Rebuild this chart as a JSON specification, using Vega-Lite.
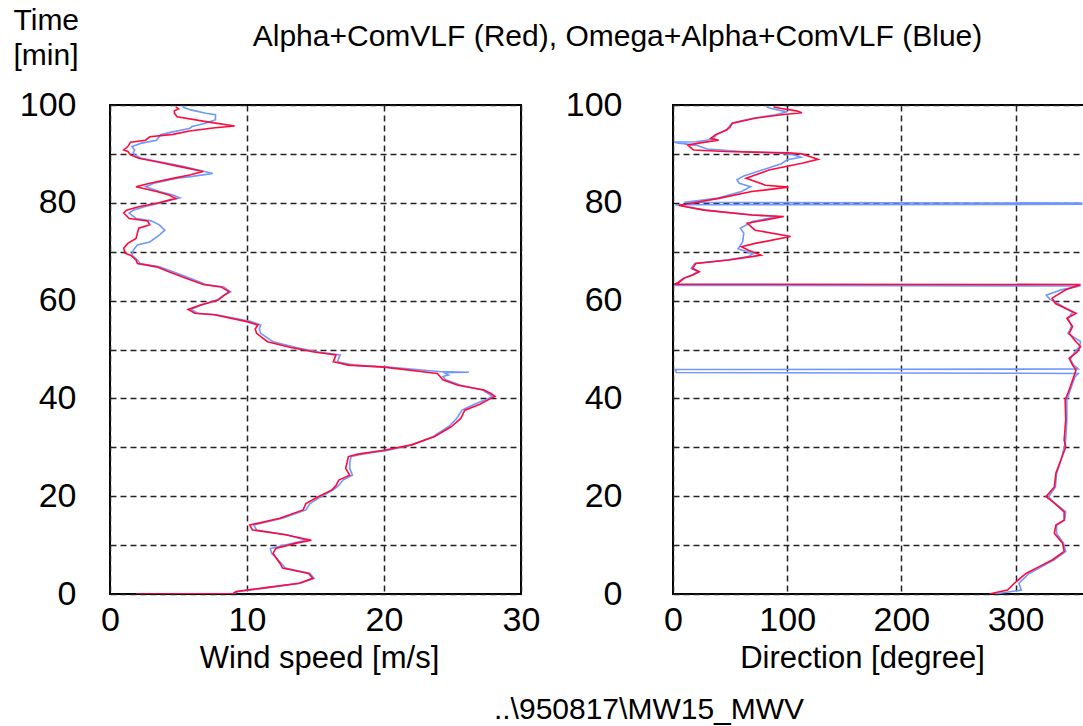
{
  "$schema": "https://vega.github.io/schema/vega-lite/v6.json",
  "background": "white",
  "padding": {"left": 12, "top": 4, "right": 0, "bottom": 0},
  "config": {
    "font": "Liberation Sans",
    "axis": {
      "labelFont": "Liberation Sans", "labelFontSize": 34, "labelColor": "#000",
      "titleFont": "Liberation Sans", "titleFontSize": 31, "titleFontWeight": "normal", "titleColor": "#000",
      "ticks": false, "domain": false, "labelFlush": false, "labelOverlap": false,
      "gridColor": "#222", "gridDash": [6, 4], "gridWidth": 1.5, "gridOpacity": 1
    }
  },
  "title": {
    "text": "..\\950817\\MW15_MWV", "orient": "bottom", "anchor": "middle", "frame": "group",
    "dx": 539, "offset": 21, "font": "Liberation Sans", "fontSize": 30, "fontWeight": "normal", "color": "#000"
  },
  "datasets": {
    "speed": [
      {"s":"Red","t":99.6,"v":4.8},{"s":"Red","t":99.2,"v":5.0},{"s":"Red","t":98.8,"v":4.7},{"s":"Red","t":98.3,"v":4.7},
      {"s":"Red","t":97.6,"v":4.9},{"s":"Red","t":96.6,"v":7.0},{"s":"Red","t":95.7,"v":9.1},{"s":"Red","t":95.3,"v":7.5},
      {"s":"Red","t":94.7,"v":5.8},{"s":"Red","t":94.0,"v":4.6},{"s":"Red","t":93.5,"v":2.9},{"s":"Red","t":92.8,"v":2.6},
      {"s":"Red","t":92.4,"v":1.5},{"s":"Red","t":91.5,"v":1.3},{"s":"Red","t":90.8,"v":1.0},{"s":"Red","t":90.5,"v":1.3},
      {"s":"Red","t":89.8,"v":1.5},{"s":"Red","t":89.1,"v":2.1},{"s":"Red","t":88.4,"v":3.4},{"s":"Red","t":87.4,"v":5.1},
      {"s":"Red","t":86.4,"v":6.8},{"s":"Red","t":85.7,"v":5.8},{"s":"Red","t":85.0,"v":4.6},{"s":"Red","t":84.0,"v":2.9},
      {"s":"Red","t":83.3,"v":1.9},{"s":"Red","t":82.3,"v":3.4},{"s":"Red","t":81.6,"v":4.3},{"s":"Red","t":80.9,"v":4.8},
      {"s":"Red","t":79.9,"v":3.4},{"s":"Red","t":79.2,"v":2.1},{"s":"Red","t":78.5,"v":1.2},{"s":"Red","t":77.9,"v":1.0},
      {"s":"Red","t":76.8,"v":1.4},{"s":"Red","t":76.3,"v":2.75},{"s":"Red","t":75.5,"v":2.9},{"s":"Red","t":74.8,"v":2.1},
      {"s":"Red","t":73.8,"v":2.0},{"s":"Red","t":72.7,"v":1.9},{"s":"Red","t":71.7,"v":1.3},{"s":"Red","t":70.7,"v":1.0},
      {"s":"Red","t":69.7,"v":1.1},{"s":"Red","t":69.3,"v":1.5},{"s":"Red","t":68.3,"v":1.9},{"s":"Red","t":67.6,"v":2.0},
      {"s":"Red","t":66.9,"v":3.4},{"s":"Red","t":65.9,"v":4.3},{"s":"Red","t":64.6,"v":5.5},{"s":"Red","t":63.3,"v":6.8},
      {"s":"Red","t":62.8,"v":8.1},{"s":"Red","t":61.8,"v":8.7},{"s":"Red","t":61.1,"v":8.35},{"s":"Red","t":60.1,"v":7.9},
      {"s":"Red","t":59.1,"v":6.6},{"s":"Red","t":58.2,"v":5.7},{"s":"Red","t":57.4,"v":6.2},{"s":"Red","t":57.1,"v":7.6},
      {"s":"Red","t":55.7,"v":10.0},{"s":"Red","t":55.0,"v":10.8},{"s":"Red","t":54.2,"v":10.6},{"s":"Red","t":53.3,"v":10.7},
      {"s":"Red","t":51.6,"v":11.5},{"s":"Red","t":50.4,"v":13.2},{"s":"Red","t":49.5,"v":14.9},{"s":"Red","t":48.9,"v":16.5},
      {"s":"Red","t":47.5,"v":16.3},{"s":"Red","t":46.8,"v":17.4},{"s":"Red","t":46.4,"v":20.0},{"s":"Red","t":45.1,"v":23.9},
      {"s":"Red","t":43.8,"v":24.3},{"s":"Red","t":42.7,"v":25.4},{"s":"Red","t":41.7,"v":27.3},{"s":"Red","t":41.0,"v":27.8},
      {"s":"Red","t":40.4,"v":28.1},{"s":"Red","t":39.7,"v":27.6},{"s":"Red","t":38.8,"v":27.0},{"s":"Red","t":37.6,"v":25.9},
      {"s":"Red","t":35.9,"v":25.6},{"s":"Red","t":34.2,"v":24.9},{"s":"Red","t":32.2,"v":23.7},{"s":"Red","t":30.5,"v":22.0},
      {"s":"Red","t":29.4,"v":20.0},{"s":"Red","t":28.6,"v":18.1},{"s":"Red","t":28.1,"v":17.4},{"s":"Red","t":26.8,"v":17.3},
      {"s":"Red","t":25.7,"v":17.2},{"s":"Red","t":24.3,"v":17.5},{"s":"Red","t":23.3,"v":16.7},{"s":"Red","t":22.2,"v":16.5},
      {"s":"Red","t":21.3,"v":16.2},{"s":"Red","t":19.9,"v":15.2},{"s":"Red","t":18.5,"v":14.3},{"s":"Red","t":17.2,"v":14.1},
      {"s":"Red","t":15.5,"v":12.4},{"s":"Red","t":14.1,"v":10.2},{"s":"Red","t":13.1,"v":10.4},{"s":"Red","t":12.1,"v":12.8},
      {"s":"Red","t":11.0,"v":14.7},{"s":"Red","t":10.4,"v":13.6},{"s":"Red","t":9.3,"v":12.1},{"s":"Red","t":8.3,"v":11.9},
      {"s":"Red","t":6.3,"v":12.4},{"s":"Red","t":5.3,"v":12.6},{"s":"Red","t":4.2,"v":14.5},{"s":"Red","t":3.2,"v":14.8},
      {"s":"Red","t":2.2,"v":13.8},{"s":"Red","t":1.2,"v":11.1},{"s":"Red","t":0.5,"v":9.2},{"s":"Red","t":0.1,"v":9.0},
      {"s":"Red","t":0.0,"v":1.9},

      {"s":"Blue","t":99.6,"v":5.3},{"s":"Blue","t":99.0,"v":5.9},{"s":"Blue","t":98.3,"v":7.0},{"s":"Blue","t":98.0,"v":7.7},
      {"s":"Blue","t":97.0,"v":7.7},{"s":"Blue","t":96.2,"v":6.9},{"s":"Blue","t":95.6,"v":6.0},{"s":"Blue","t":95.2,"v":5.8},
      {"s":"Blue","t":94.4,"v":4.4},{"s":"Blue","t":93.9,"v":3.7},{"s":"Blue","t":92.8,"v":3.4},{"s":"Blue","t":92.2,"v":2.3},
      {"s":"Blue","t":91.5,"v":1.6},{"s":"Blue","t":90.8,"v":1.8},{"s":"Blue","t":90.3,"v":1.7},{"s":"Blue","t":89.8,"v":1.8},
      {"s":"Blue","t":89.1,"v":2.3},{"s":"Blue","t":88.4,"v":3.6},{"s":"Blue","t":87.4,"v":5.4},{"s":"Blue","t":86.0,"v":7.5},
      {"s":"Blue","t":85.4,"v":6.0},{"s":"Blue","t":85.0,"v":4.8},{"s":"Blue","t":84.0,"v":3.2},{"s":"Blue","t":83.3,"v":2.6},
      {"s":"Blue","t":82.3,"v":3.6},{"s":"Blue","t":81.6,"v":4.6},{"s":"Blue","t":81.0,"v":5.1},{"s":"Blue","t":79.9,"v":3.6},
      {"s":"Blue","t":79.2,"v":2.5},{"s":"Blue","t":78.5,"v":1.7},{"s":"Blue","t":77.9,"v":1.4},{"s":"Blue","t":76.8,"v":1.9},
      {"s":"Blue","t":76.3,"v":3.0},{"s":"Blue","t":75.5,"v":3.6},{"s":"Blue","t":74.4,"v":4.0},{"s":"Blue","t":73.4,"v":3.6},
      {"s":"Blue","t":72.0,"v":2.9},{"s":"Blue","t":71.4,"v":2.0},{"s":"Blue","t":70.3,"v":1.7},{"s":"Blue","t":69.3,"v":1.6},
      {"s":"Blue","t":68.3,"v":2.0},{"s":"Blue","t":67.6,"v":2.2},{"s":"Blue","t":66.9,"v":3.6},{"s":"Blue","t":65.9,"v":4.6},
      {"s":"Blue","t":64.6,"v":5.8},{"s":"Blue","t":63.3,"v":7.0},{"s":"Blue","t":62.8,"v":8.3},{"s":"Blue","t":61.8,"v":8.8},
      {"s":"Blue","t":61.1,"v":8.3},{"s":"Blue","t":60.1,"v":7.8},{"s":"Blue","t":59.1,"v":6.7},{"s":"Blue","t":58.2,"v":5.9},
      {"s":"Blue","t":57.4,"v":6.4},{"s":"Blue","t":57.1,"v":7.8},{"s":"Blue","t":55.7,"v":10.3},{"s":"Blue","t":55.0,"v":11.0},
      {"s":"Blue","t":54.2,"v":10.9},{"s":"Blue","t":53.3,"v":11.0},{"s":"Blue","t":51.6,"v":11.9},{"s":"Blue","t":50.4,"v":13.6},
      {"s":"Blue","t":49.5,"v":15.2},{"s":"Blue","t":48.9,"v":16.8},{"s":"Blue","t":47.5,"v":16.6},{"s":"Blue","t":46.8,"v":17.8},
      {"s":"Blue","t":46.4,"v":20.3},{"s":"Blue","t":45.6,"v":23.6},{"s":"Blue","t":45.5,"v":24.0},{"s":"Blue","t":45.35,"v":26.2},
      {"s":"Blue","t":45.25,"v":24.4},{"s":"Blue","t":44.8,"v":24.7},{"s":"Blue","t":44.5,"v":24.3},{"s":"Blue","t":43.8,"v":24.5},
      {"s":"Blue","t":42.7,"v":25.6},{"s":"Blue","t":41.7,"v":27.2},{"s":"Blue","t":41.0,"v":27.6},{"s":"Blue","t":40.4,"v":27.9},
      {"s":"Blue","t":39.7,"v":27.4},{"s":"Blue","t":38.8,"v":26.6},{"s":"Blue","t":37.6,"v":25.7},{"s":"Blue","t":35.9,"v":25.3},
      {"s":"Blue","t":34.2,"v":24.7},{"s":"Blue","t":32.2,"v":23.6},{"s":"Blue","t":30.5,"v":22.1},{"s":"Blue","t":29.4,"v":20.3},
      {"s":"Blue","t":28.6,"v":18.4},{"s":"Blue","t":28.1,"v":17.6},{"s":"Blue","t":26.8,"v":17.5},{"s":"Blue","t":25.7,"v":17.5},
      {"s":"Blue","t":24.3,"v":17.7},{"s":"Blue","t":23.3,"v":17.0},{"s":"Blue","t":22.2,"v":16.7},{"s":"Blue","t":21.3,"v":16.3},
      {"s":"Blue","t":19.9,"v":15.4},{"s":"Blue","t":18.5,"v":14.6},{"s":"Blue","t":17.2,"v":14.3},{"s":"Blue","t":15.5,"v":12.6},
      {"s":"Blue","t":14.1,"v":10.5},{"s":"Blue","t":13.1,"v":10.7},{"s":"Blue","t":12.1,"v":12.9},{"s":"Blue","t":11.0,"v":14.3},
      {"s":"Blue","t":10.4,"v":13.4},{"s":"Blue","t":9.3,"v":11.7},{"s":"Blue","t":8.3,"v":11.8},{"s":"Blue","t":6.3,"v":12.5},
      {"s":"Blue","t":5.3,"v":12.8},{"s":"Blue","t":4.2,"v":14.6},{"s":"Blue","t":3.2,"v":14.9},{"s":"Blue","t":2.2,"v":13.9},
      {"s":"Blue","t":1.2,"v":11.3},{"s":"Blue","t":0.5,"v":9.4},{"s":"Blue","t":0.1,"v":9.0},{"s":"Blue","t":0.0,"v":4.7}
    ],
    "dir": [
      {"s":"Red","t":99.6,"v":88},{"s":"Red","t":99.3,"v":95},{"s":"Red","t":98.8,"v":108},{"s":"Red","t":98.4,"v":113},
      {"s":"Red","t":98.0,"v":95},{"s":"Red","t":97.3,"v":72},{"s":"Red","t":96.3,"v":52},{"s":"Red","t":95.5,"v":50},
      {"s":"Red","t":94.9,"v":47},{"s":"Red","t":93.9,"v":37},{"s":"Red","t":93.2,"v":33},{"s":"Red","t":92.8,"v":40},
      {"s":"Red","t":92.3,"v":25},{"s":"Red","t":91.8,"v":13},{"s":"Red","t":91.2,"v":16},{"s":"Red","t":90.8,"v":18},
      {"s":"Red","t":90.5,"v":46},{"s":"Red","t":90.2,"v":101},{"s":"Red","t":90.0,"v":113},{"s":"Red","t":88.9,"v":127},
      {"s":"Red","t":88.1,"v":113},{"s":"Red","t":86.7,"v":84},{"s":"Red","t":85.0,"v":64},{"s":"Red","t":83.6,"v":81},
      {"s":"Red","t":83.2,"v":101},{"s":"Red","t":82.3,"v":69},{"s":"Red","t":80.9,"v":40},{"s":"Red","t":79.8,"v":14},
      {"s":"Red","t":79.5,"v":5},{"s":"Red","t":79.2,"v":11},{"s":"Red","t":78.5,"v":28},{"s":"Red","t":77.5,"v":69},
      {"s":"Red","t":77.2,"v":97},{"s":"Red","t":75.8,"v":65},{"s":"Red","t":74.4,"v":72},{"s":"Red","t":73.1,"v":103},
      {"s":"Red","t":71.7,"v":72},{"s":"Red","t":71.0,"v":60},{"s":"Red","t":70.3,"v":66},{"s":"Red","t":69.3,"v":77},
      {"s":"Red","t":69.0,"v":69},{"s":"Red","t":68.3,"v":49},{"s":"Red","t":67.6,"v":20},{"s":"Red","t":66.6,"v":17},
      {"s":"Red","t":65.9,"v":23},{"s":"Red","t":65.2,"v":17},{"s":"Red","t":64.6,"v":10},{"s":"Red","t":63.7,"v":5},
      {"s":"Red","t":63.35,"v":1},{"s":"Red","t":63.3,"v":357},{"s":"Red","t":62.2,"v":344},{"s":"Red","t":60.5,"v":332},
      {"s":"Red","t":59.4,"v":335},{"s":"Red","t":57.4,"v":353},{"s":"Red","t":56.4,"v":345},{"s":"Red","t":54.7,"v":350},
      {"s":"Red","t":53.3,"v":347},{"s":"Red","t":51.6,"v":353},{"s":"Red","t":50.6,"v":357},{"s":"Red","t":49.5,"v":354},
      {"s":"Red","t":48.2,"v":347},{"s":"Red","t":46.8,"v":350},{"s":"Red","t":45.8,"v":353},{"s":"Red","t":44.4,"v":351},
      {"s":"Red","t":41.7,"v":347},{"s":"Red","t":39.7,"v":343.5},{"s":"Red","t":35.6,"v":344},{"s":"Red","t":31.5,"v":342.6},
      {"s":"Red","t":30.0,"v":344},{"s":"Red","t":27.4,"v":339.7},{"s":"Red","t":24.7,"v":335.4},{"s":"Red","t":21.9,"v":334},
      {"s":"Red","t":19.9,"v":326.7},{"s":"Red","t":18.9,"v":332.5},{"s":"Red","t":16.8,"v":342.6},{"s":"Red","t":15.1,"v":342.6},
      {"s":"Red","t":14.1,"v":335.4},{"s":"Red","t":12.4,"v":334},{"s":"Red","t":10.4,"v":341.2},{"s":"Red","t":8.7,"v":342.6},
      {"s":"Red","t":7.0,"v":332.5},{"s":"Red","t":5.6,"v":320.8},{"s":"Red","t":4.2,"v":309.2},{"s":"Red","t":2.2,"v":299},
      {"s":"Red","t":0.8,"v":293},{"s":"Red","t":0.0,"v":277},

      {"s":"Blue","t":99.6,"v":82},{"s":"Blue","t":99.3,"v":86},{"s":"Blue","t":98.6,"v":100},{"s":"Blue","t":98.0,"v":90},
      {"s":"Blue","t":97.3,"v":70},{"s":"Blue","t":96.3,"v":52},{"s":"Blue","t":95.0,"v":47},{"s":"Blue","t":93.9,"v":38},
      {"s":"Blue","t":93.0,"v":35},{"s":"Blue","t":92.5,"v":20},{"s":"Blue","t":92.4,"v":1},{"s":"Blue","t":92.2,"v":5},
      {"s":"Blue","t":91.8,"v":20},{"s":"Blue","t":91.0,"v":30},{"s":"Blue","t":90.5,"v":60},{"s":"Blue","t":90.1,"v":97},
      {"s":"Blue","t":89.8,"v":106},{"s":"Blue","t":89.3,"v":112},{"s":"Blue","t":88.8,"v":100},{"s":"Blue","t":88.0,"v":95},
      {"s":"Blue","t":86.7,"v":78},{"s":"Blue","t":85.5,"v":62},{"s":"Blue","t":84.7,"v":56},{"s":"Blue","t":84.0,"v":58},
      {"s":"Blue","t":83.3,"v":68},{"s":"Blue","t":82.3,"v":60},{"s":"Blue","t":80.9,"v":38},{"s":"Blue","t":80.1,"v":10},
      {"s":"Blue","t":79.95,"v":358},{"s":"Blue","t":79.7,"v":358},{"s":"Blue","t":79.6,"v":2},{"s":"Blue","t":79.3,"v":10},
      {"s":"Blue","t":78.5,"v":27},{"s":"Blue","t":77.5,"v":70},{"s":"Blue","t":77.2,"v":92},{"s":"Blue","t":76.2,"v":70},
      {"s":"Blue","t":74.8,"v":59},{"s":"Blue","t":73.8,"v":62},{"s":"Blue","t":72.0,"v":61},{"s":"Blue","t":70.6,"v":57},
      {"s":"Blue","t":69.6,"v":70},{"s":"Blue","t":69.0,"v":66},{"s":"Blue","t":68.3,"v":47},{"s":"Blue","t":67.6,"v":19},
      {"s":"Blue","t":66.6,"v":16},{"s":"Blue","t":65.9,"v":22},{"s":"Blue","t":65.2,"v":16},{"s":"Blue","t":64.6,"v":9},
      {"s":"Blue","t":63.7,"v":4},{"s":"Blue","t":63.1,"v":2},{"s":"Blue","t":63.0,"v":357},{"s":"Blue","t":62.2,"v":340},
      {"s":"Blue","t":61.1,"v":327},{"s":"Blue","t":60.3,"v":330},{"s":"Blue","t":59.4,"v":337},{"s":"Blue","t":57.6,"v":350},
      {"s":"Blue","t":56.4,"v":346},{"s":"Blue","t":54.7,"v":349},{"s":"Blue","t":53.3,"v":346},{"s":"Blue","t":51.6,"v":357},
      {"s":"Blue","t":50.6,"v":356},{"s":"Blue","t":49.5,"v":352},{"s":"Blue","t":48.0,"v":348},{"s":"Blue","t":46.8,"v":351},
      {"s":"Blue","t":46.0,"v":355},{"s":"Blue","t":45.9,"v":2},{"s":"Blue","t":45.3,"v":3},{"s":"Blue","t":45.1,"v":355},
      {"s":"Blue","t":44.4,"v":352},{"s":"Blue","t":41.7,"v":348},{"s":"Blue","t":39.7,"v":345},{"s":"Blue","t":35.6,"v":345},
      {"s":"Blue","t":31.5,"v":344},{"s":"Blue","t":27.4,"v":340},{"s":"Blue","t":24.7,"v":336},{"s":"Blue","t":21.9,"v":335},
      {"s":"Blue","t":19.9,"v":329},{"s":"Blue","t":18.9,"v":333},{"s":"Blue","t":16.8,"v":344},{"s":"Blue","t":15.1,"v":343},
      {"s":"Blue","t":14.1,"v":336},{"s":"Blue","t":12.4,"v":336},{"s":"Blue","t":10.4,"v":342},{"s":"Blue","t":8.7,"v":344},
      {"s":"Blue","t":7.0,"v":334},{"s":"Blue","t":5.6,"v":323},{"s":"Blue","t":4.2,"v":312},{"s":"Blue","t":2.2,"v":303},
      {"s":"Blue","t":0.8,"v":305},{"s":"Blue","t":0.0,"v":282}
    ]
  },
  "bounds": "flush",
  "spacing": 152,
  "hconcat": [
    {
      "width": 411, "height": 489,
      "view": {"stroke": "#000", "strokeWidth": 2},
      "data": {"name": "speed"},
      "encoding": {
        "y": {"field": "t", "type": "quantitative", "scale": {"domain": [0, 100], "nice": false, "zero": false},
          "axis": {"values": [0,10,20,30,40,50,60,70,80,90,100], "labelExpr": "datum.value % 20 === 0 ? datum.label : ''",
            "labelPadding": 34, "title": ["Time", "[min]"], "titleAngle": 0, "titleAlign": "left", "titleBaseline": "top",
            "titleX": -97, "titleY": -100, "titleLineHeight": 35, "titleFontSize": 30}},
        "x": {"field": "v", "type": "quantitative", "scale": {"domain": [0, 30], "nice": false, "zero": false},
          "axis": {"values": [0,10,20,30], "labelPadding": 9, "title": "Wind speed [m/s]", "titleX": 209, "titleY": 64, "titleBaseline": "middle"}},
        "order": {"field": "t", "type": "quantitative"}
      },
      "layer": [
        {"transform": [{"filter": "datum.s === 'Blue'"}], "mark": {"type": "line", "color": "#6f97ff", "strokeWidth": 1.6, "clip": true}},
        {"transform": [{"filter": "datum.s === 'Red'"}], "mark": {"type": "line", "color": "#ff0a3c", "strokeWidth": 1.6, "clip": true}}
      ]
    },
    {
      "width": 411, "height": 489,
      "view": {"stroke": "#000", "strokeWidth": 2},
      "data": {"name": "dir"},
      "encoding": {
        "y": {"field": "t", "type": "quantitative", "scale": {"domain": [0, 100], "nice": false, "zero": false},
          "axis": {"values": [0,10,20,30,40,50,60,70,80,90,100], "labelExpr": "datum.value % 20 === 0 ? datum.label : ''",
            "labelPadding": 51, "title": "Alpha+ComVLF (Red), Omega+Alpha+ComVLF (Blue)", "titleAngle": 0, "titleAlign": "center",
            "titleBaseline": "middle", "titleX": -56, "titleY": -69, "titleFontSize": 30}},
        "x": {"field": "v", "type": "quantitative", "scale": {"domain": [0, 360], "nice": false, "zero": false},
          "axis": {"values": [0,100,200,300], "labelPadding": 9, "title": "Direction [degree]", "titleX": 189, "titleY": 64, "titleBaseline": "middle"}},
        "order": {"field": "t", "type": "quantitative"}
      },
      "layer": [
        {"transform": [{"filter": "datum.s === 'Blue'"}], "mark": {"type": "line", "color": "#6f97ff", "strokeWidth": 1.6, "clip": true}},
        {"transform": [{"filter": "datum.s === 'Red'"}], "mark": {"type": "line", "color": "#ff0a3c", "strokeWidth": 1.6, "clip": true}}
      ]
    }
  ]
}
